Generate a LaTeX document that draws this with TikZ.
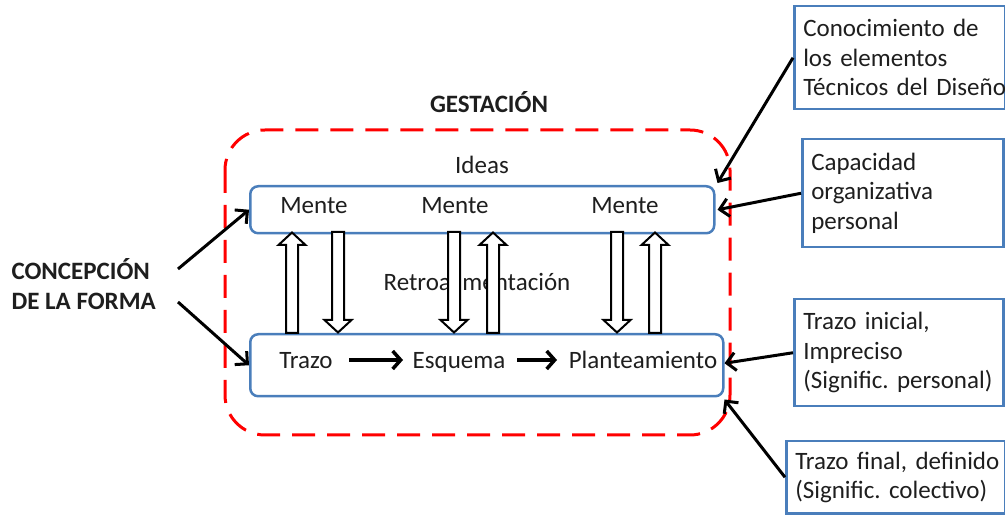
\documentclass[tikz,border=0pt]{standalone}
\usepackage{fontspec}
\setmainfont{Carlito}
\usetikzlibrary{arrows.meta,calc}
\definecolor{boxblue}{RGB}{74,126,187}
\definecolor{txt}{RGB}{30,30,30}
\frenchspacing
\tikzset{
  every node/.style={font=\fontsize{25}{29.5}\selectfont, text=txt},
  lbl/.style={anchor=base, inner sep=0pt},
  mainbox/.style={draw=boxblue, line width=2.5pt, rounded corners=8pt, anchor=north west, inner sep=0pt},
  sidebox/.style={draw=boxblue, line width=2.5pt, anchor=north west, inner xsep=9pt, inner ysep=0pt, align=left},
  blackarrow/.style={draw=black, line width=3pt, -{Straight Barb[length=9pt,width=18pt,line width=3pt]}},
  smallarrow/.style={draw=black, line width=3.5pt, -{Straight Barb[length=8pt,width=18pt,line width=3.5pt]}},
  hollow/.style={draw=black, line width=2pt, fill=white, line join=miter},
  gest/.style={draw=red, line width=3pt, dash pattern=on 23pt off 12pt, rounded corners=40pt},
}
\begin{document}
\begin{tikzpicture}[x=1pt,y=-1pt]
\useasboundingbox (0,0) rectangle (1005,529);
% dashed gestation boundary
\draw[gest] (225,130) rectangle (730,435);
\node[lbl, font=\fontsize{25}{29}\selectfont\bfseries] (gestacion) at (489,113) {GESTACIÓN};
% main boxes
\node[mainbox, minimum width=464pt, minimum height=47pt] (top) at (249,185) {};
\node[mainbox, minimum width=473pt, minimum height=62pt] (bot) at (249,333) {};
\node[lbl] (ideas) at (482,174) {Ideas};
\node[lbl] (m1) at (314,214) {Mente};
\node[lbl] (m2) at (455,214) {Mente};
\node[lbl] (m3) at (625,214) {Mente};
\node[lbl] (retro) at (477,291) {Retroalimentación};
\node[lbl] (trazo) at (306,369) {Trazo};
\node[lbl] (esquema) at (459,369) {Esquema};
\node[lbl] (plant) at (643,369) {Planteamiento};
\draw[smallarrow] ($(trazo.base)+(43,-9)$) -- ($(esquema.base)+(-56,-9)$);
\draw[smallarrow] ($(esquema.base)+(58,-9)$) -- ($(plant.base)+(-86,-9)$);
% hollow arrows: up
\foreach \cx in {292,493,655}{
  \draw[hollow] (\cx-6,333) -- (\cx-6,245) -- (\cx-13.5,245) -- (\cx,232.5) -- (\cx+13.5,245) -- (\cx+6,245) -- (\cx+6,333) -- cycle;
}
% hollow arrows: down
\foreach \cx in {338,454,617}{
  \draw[hollow] (\cx-6,232) -- (\cx-6,320) -- (\cx-13.5,320) -- (\cx,332.5) -- (\cx+13.5,320) -- (\cx+6,320) -- (\cx+6,232) -- cycle;
}
% concepcion
\node[anchor=west, align=left, font=\fontsize{25}{30}\selectfont\bfseries] (conc) at (8,284) {CONCEPCIÓN\\DE LA FORMA};
\coordinate (c1) at (178,269);
\coordinate (c2) at (178,302);
\draw[blackarrow] (c1) -- (top.west);
\draw[blackarrow] (c2) -- (bot.west);
% side boxes
\node[sidebox, minimum width=211pt, minimum height=103pt, text width=193pt] (b1) at (793,5) {\mbox{Conocimiento de}\\\mbox{los elementos}\\\mbox{Técnicos del Diseño}};
\node[sidebox, minimum width=201pt, minimum height=108pt, text width=183pt] (b2) at (801,138) {\mbox{Capacidad}\\\mbox{organizativa}\\\mbox{personal}};
\node[sidebox, minimum width=209pt, minimum height=107pt, text width=191pt] (b3) at (793,298) {\mbox{Trazo inicial,}\\\mbox{Impreciso}\\\mbox{(Signific. personal)}};
\node[sidebox, minimum width=219pt, minimum height=72pt, text width=201pt] (b4) at (785,440) {\mbox{Trazo final, definido}\\\mbox{(Signific. colectivo)}};
\draw[blackarrow] (b1.west) -- ($(top.north east)+(2,-2)$);
\draw[blackarrow] (b2.west) -- ($(top.east)+(2,0)$);
\draw[blackarrow] (b3.west) -- ($(bot.east)+(0,-2)$);
\draw[blackarrow] (b4.west) -- ($(bot.south east)+(0,2)$);
\end{tikzpicture}
\end{document}
